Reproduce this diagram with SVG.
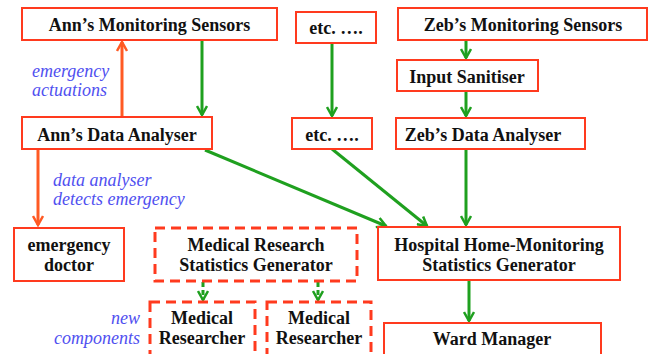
<svg xmlns="http://www.w3.org/2000/svg" width="650" height="354" viewBox="0 0 650 354">
<defs>
<style>
.box{fill:#fff;stroke:#FF3A1E;stroke-width:2}
.dbox{fill:#fff;stroke:#FF3A1E;stroke-width:3;stroke-dasharray:10 6}
.t{font-family:'Liberation Serif','Times New Roman',Times,'DejaVu Serif',serif;font-weight:bold;font-size:18px;fill:#111;text-anchor:middle}
.n{font-family:'Liberation Serif','Times New Roman',Times,'DejaVu Serif',serif;font-style:italic;font-size:18px;fill:#5050F0}
.g{stroke:#1FA01F;stroke-width:3;fill:none}
.o{stroke:#FF5A24;stroke-width:3;fill:none}
.gd{stroke:#1FA01F;stroke-width:3;fill:none;stroke-dasharray:5 3}
</style>
<marker id="ag" viewBox="0 0 12 12" refX="10" refY="6" markerWidth="12" markerHeight="12" markerUnits="userSpaceOnUse" orient="auto"><path d="M1,1 L10,6 L1,11" fill="none" stroke="#1FA01F" stroke-width="2.5"/></marker>
<marker id="ao" viewBox="0 0 12 12" refX="10" refY="6" markerWidth="12" markerHeight="12" markerUnits="userSpaceOnUse" orient="auto"><path d="M1,1 L10,6 L1,11" fill="none" stroke="#FF5A24" stroke-width="2.5"/></marker>
</defs>
<rect width="650" height="354" fill="#fff"/>
<g id="connectors">
<line class="o" x1="122" y1="116" x2="122" y2="42" marker-end="url(#ao)"/>
<line class="g" x1="202" y1="41" x2="202" y2="115" marker-end="url(#ag)"/>
<line class="g" x1="332" y1="44" x2="332" y2="116" marker-end="url(#ag)"/>
<line class="g" x1="466" y1="41" x2="466" y2="58" marker-end="url(#ag)"/>
<line class="g" x1="466" y1="92" x2="466" y2="116" marker-end="url(#ag)"/>
<line class="o" x1="38" y1="150" x2="38" y2="225" marker-end="url(#ao)"/>
<line class="g" x1="205" y1="150" x2="386" y2="226" marker-end="url(#ag)"/>
<line class="g" x1="332" y1="149" x2="427" y2="226" marker-end="url(#ag)"/>
<line class="g" x1="466" y1="150" x2="466" y2="225" marker-end="url(#ag)"/>
<line class="g" x1="469" y1="281" x2="469" y2="321" marker-end="url(#ag)"/>
<line class="gd" x1="203" y1="282" x2="203" y2="300" marker-end="url(#ag)"/>
<line class="gd" x1="318" y1="282" x2="318" y2="300" marker-end="url(#ag)"/>
</g>
<g id="ann-sensors"><rect class="box" x="22" y="8" width="255" height="32"/><text class="t" x="149.5" y="31">Ann’s Monitoring Sensors</text></g>
<g id="etc-top"><rect class="box" x="296" y="12" width="80" height="31"/><text class="t" x="336" y="34">etc. ….</text></g>
<g id="zeb-sensors"><rect class="box" x="398" y="8" width="249" height="32"/><text class="t" x="523" y="31">Zeb’s Monitoring Sensors</text></g>
<g id="input-sanitiser"><rect class="box" x="397" y="60" width="141" height="31"/><text class="t" x="467" y="83">Input Sanitiser</text></g>
<g id="ann-analyser"><rect class="box" x="22" y="117" width="190" height="32"/><text class="t" x="117" y="141">Ann’s Data Analyser</text></g>
<g id="etc-mid"><rect class="box" x="292" y="118" width="80" height="31"/><text class="t" x="332" y="141">etc. ….</text></g>
<g id="zeb-analyser"><rect class="box" x="396" y="118" width="189" height="31"/><text class="t" x="483" y="141">Zeb’s Data Analyser</text></g>
<g id="emergency-doctor"><rect class="box" x="14" y="228" width="110" height="53"/><text class="t" x="69" y="251">emergency</text><text class="t" x="69" y="271">doctor</text></g>
<g id="med-stats"><rect class="dbox" x="155" y="228" width="202" height="53"/><text class="t" x="256" y="251">Medical Research</text><text class="t" x="256" y="271">Statistics Generator</text></g>
<g id="hospital-stats"><rect class="box" x="378" y="227" width="242" height="53"/><text class="t" x="499" y="251">Hospital Home-Monitoring</text><text class="t" x="499" y="271">Statistics Generator</text></g>
<g id="researcher-1"><rect class="dbox" x="150" y="302" width="105" height="60"/><text class="t" x="202" y="324">Medical</text><text class="t" x="202" y="344">Researcher</text></g>
<g id="researcher-2"><rect class="dbox" x="267" y="302" width="104" height="60"/><text class="t" x="319" y="324">Medical</text><text class="t" x="319" y="344">Researcher</text></g>
<g id="ward-manager"><rect class="box" x="384" y="323" width="217" height="40"/><text class="t" x="492" y="345">Ward Manager</text></g>
<g id="labels">
<text class="n" x="32" y="77">emergency</text>
<text class="n" x="32" y="96">actuations</text>
<text class="n" x="53" y="186">data analyser</text>
<text class="n" x="53" y="205">detects emergency</text>
<text class="n" x="140" y="324" text-anchor="end">new</text>
<text class="n" x="140" y="344" text-anchor="end">components</text>
</g>
</svg>
